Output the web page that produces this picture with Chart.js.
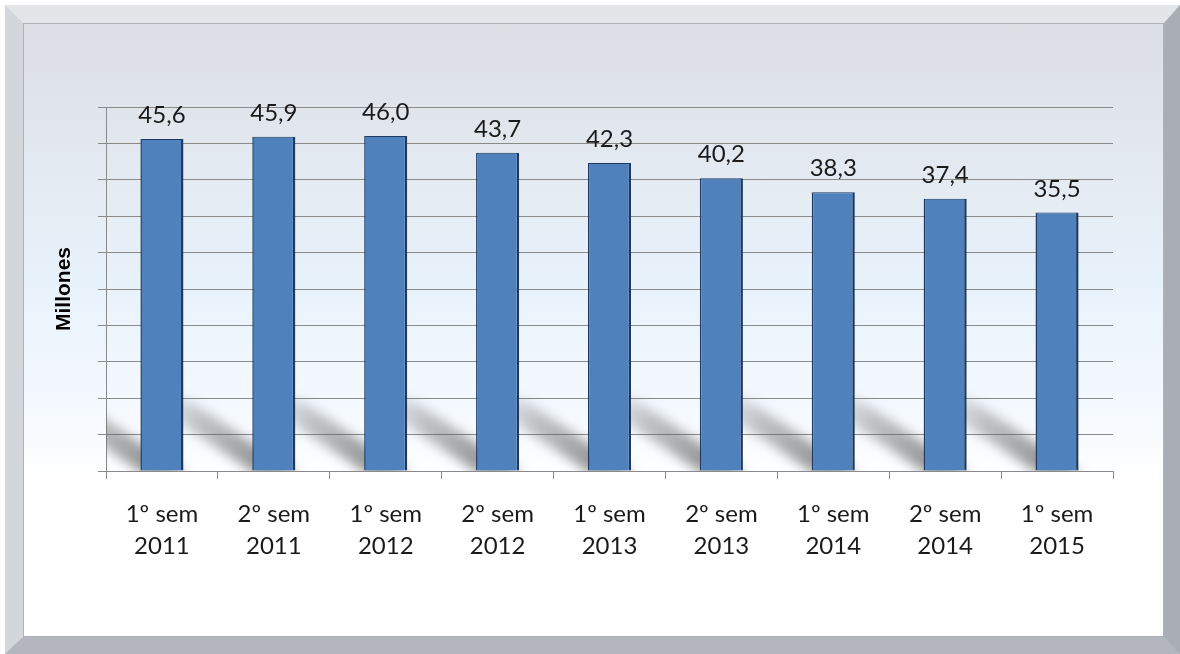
<!DOCTYPE html>
<html>
<head>
<meta charset="utf-8">
<script src="https://cdn.jsdelivr.net/npm/chart.js@4"></script>
<style>
  html, body { margin: 0; padding: 0; background: #ffffff; }
  #wrap { position: relative; width: 1180px; height: 654px; overflow: hidden; }
  #frame {
    position: absolute; left: 5px; top: 5px; width: 1175px; height: 649px;
    box-sizing: border-box;
    border-style: solid;
    border-width: 18px 16px 17px 18px;
    border-color: #e3e5e8 #a9adb4 #b3b7bd #d3d6da;
    box-shadow: inset 0 0 0 1px #9ea3aa;
  }
  #panel {
    position: absolute; left: 23px; top: 23px; right: 16px; bottom: 17px;
    background: linear-gradient(to bottom, #dcdfe4 0%, #e3e9f0 22%, #e8f2fb 42%, #f4f9fe 62%, #ffffff 75%, #ffffff 100%);
    border: 1px solid #aeb3b9;
    box-sizing: border-box;
  }
  canvas { position: absolute; left: 0; top: 0; }
</style>
</head>
<body>
<div id="wrap">
  <div id="frame"></div>
  <div id="panel"></div>
  <canvas id="chart" width="1180" height="654"></canvas>
</div>
<script>
// Datos: semestres y millones
const categorias = [
  ['1º sem', '2011'], ['2º sem', '2011'], ['1º sem', '2012'],
  ['2º sem', '2012'], ['1º sem', '2013'], ['2º sem', '2013'],
  ['1º sem', '2014'], ['2º sem', '2014'], ['1º sem', '2015']
];
const valores = [45.6, 45.9, 46.0, 43.7, 42.3, 40.2, 38.3, 37.4, 35.5];
const ejeY = { min: 0, max: 50, paso: 5 };
const tituloY = 'Millones';

// Sombra diagonal detrás de cada barra
const sombraBarras = {
  id: 'sombraBarras',
  beforeDatasetsDraw(chart) {
    const ctx = chart.ctx;
    const area = chart.chartArea;
    const meta = chart.getDatasetMeta(0);
    ctx.save();
    ctx.beginPath();
    ctx.rect(area.left, area.top, area.right - area.left, area.bottom - area.top);
    ctx.clip();
    ctx.filter = 'blur(6px)';
    meta.data.forEach(bar => {
      const xL = bar.x - bar.width / 2;
      const xR = bar.x + bar.width / 2;
      const base = bar.base;
      const L = 110, k = 0.66;
      const g = ctx.createLinearGradient(xL, base, xL - L, base - L * k);
      g.addColorStop(0, 'rgba(80,80,80,0.6)');
      g.addColorStop(0.55, 'rgba(110,110,110,0.4)');
      g.addColorStop(1, 'rgba(140,140,140,0)');
      ctx.fillStyle = g;
      ctx.beginPath();
      ctx.moveTo(xL + 4, base + 4);
      ctx.lineTo(xR + 4, base + 4);
      ctx.lineTo(xR - L, base - L * k);
      ctx.lineTo(xL - L, base - L * k);
      ctx.closePath();
      ctx.fill();
    });
    ctx.restore();
  }
};

// Etiquetas de valor sobre las barras
const etiquetas = {
  id: 'etiquetas',
  afterDatasetsDraw(chart) {
    const ctx = chart.ctx;
    const meta = chart.getDatasetMeta(0);
    ctx.save();
    ctx.font = '24px Lato';
    ctx.fillStyle = '#1a1a1a';
    ctx.textAlign = 'center';
    ctx.textBaseline = 'alphabetic';
    meta.data.forEach((bar, i) => {
      const txt = valores[i].toFixed(1).replace('.', ',');
      ctx.fillText(txt, bar.x, bar.y - 16);
    });
    ctx.restore();
  }
};

const ctx = document.getElementById('chart').getContext('2d');
new Chart(ctx, {
  type: 'bar',
  data: {
    labels: categorias,
    datasets: [{
      data: valores,
      backgroundColor: '#4f81bd',
      borderColor: '#1f3a60',
      borderWidth: { left: 1.5, right: 2.5, top: 1, bottom: 0 },
      borderSkipped: 'bottom',
      categoryPercentage: 1,
      barPercentage: 0.385
    }]
  },
  options: {
    responsive: false,
    animation: false,
    events: [],
    layout: { padding: { left: 0, top: 107, right: 67, bottom: 0 } },
    plugins: {
      legend: { display: false },
      tooltip: { enabled: false }
    },
    scales: {
      x: {
        offset: true,
        grid: {
          offset: true,
          drawOnChartArea: false,
          drawTicks: true,
          tickLength: 8,
          color: '#8a8a8a'
        },
        border: { color: '#8a8a8a', width: 1 },
        ticks: {
          color: '#1a1a1a',
          font: { family: 'Lato', size: 24, lineHeight: 1.33 },
          padding: 19,
          maxRotation: 0,
          autoSkip: false
        },
        afterFit(s) { s.height = 654 - 471; }
      },
      y: {
        min: ejeY.min,
        max: ejeY.max,
        ticks: { stepSize: ejeY.paso, display: false },
        grid: { color: '#8a8a8a', tickLength: 8, lineWidth: 1 },
        border: { color: '#8a8a8a', width: 1 },
        title: {
          display: true,
          text: tituloY,
          color: '#000000',
          font: { family: 'Liberation Sans', size: 21, weight: 'bold' },
          padding: { top: 52, bottom: 0 }
        },
        afterFit(s) { s.width = 106; }
      }
    }
  },
  plugins: [sombraBarras, etiquetas]
});
</script>
</body>
</html>
